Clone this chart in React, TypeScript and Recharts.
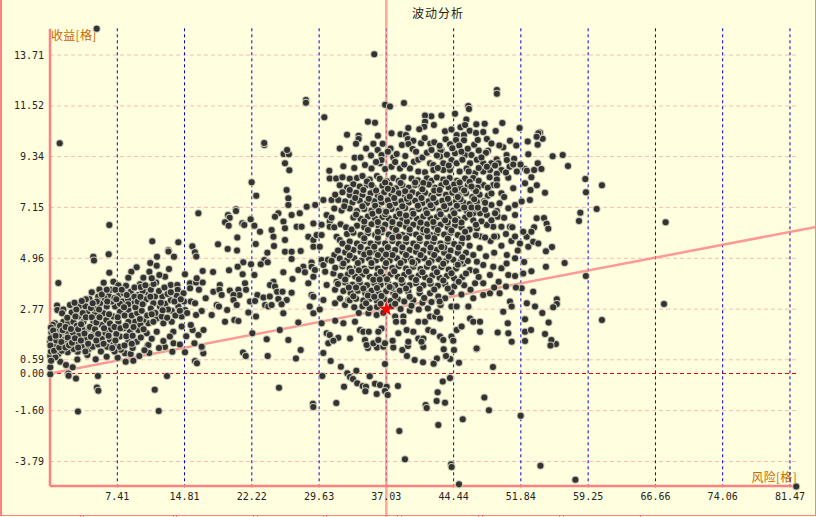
import { ScatterChart, Scatter, XAxis, YAxis, ZAxis, ReferenceLine, Symbols } from 'recharts';

const riskTicks = [7.41, 14.81, 22.22, 29.63, 37.03, 44.44, 51.84, 59.25, 66.66, 74.06, 81.47];
const returnTicks = [13.71, 11.52, 9.34, 7.15, 4.96, 2.77, 0.59, 0, -1.6, -3.79];
const currentPoint = [{ risk: 37.03, ret: 2.77 }];
const frameNotches = [80, 83, 173, 176, 253, 257, 323, 326, 397, 401, 478, 482, 559, 563, 640];

// [risk, return], region by region
const outliers = [
  [5.14,14.84],[1.07,9.91],[23.6,9.84],[23.58,9.92],[35.7,13.74],[28.18,11.77],[28.18,11.66],[36.9,11.57],[37.43,11.49],[38.97,11.64],[49.2,12.2],[49.2,12.04],[30.2,11.03],
  [67.78,6.51],[67.6,2.99],[60.77,2.3],[59,4.2],[60.77,8.1],[60.19,7.08],[59.01,7.8],[58.94,8.37],[58.39,6.92],[58.24,6.56],[57.03,8.93],[56.45,9.41],[55.34,9.35],[56.66,4.76],[54.6,4.6],[55.27,5.45],[54.6,5.26],
  [55.8,3.2],[55.8,2.99],[55.4,2.85],[55.7,1.27],[55.2,1.44],[54.5,1.7],[54.9,2.2],[54.2,2.6],[55.1,1.2],
  [27.6,1.01],[27.08,0.65],[30.09,0.88],[30.9,0.54],[32.03,0.29],[29.98,-0.11],[32.73,0.01],[33.03,-0.15],[33.36,-0.24],[33.73,0.12],[35.2,-0.12],[33.83,-0.42],[32.37,-0.57],[34.43,-0.54],[34.79,-0.57],[34.72,-0.77],[35.78,-0.44],[36.33,-0.5],[35.97,-0.88],[37.07,-0.57],[36.88,-0.75],[37.18,-0.93],[38.31,-0.54],[31.52,-1.27],[28.95,-1.3],[28.99,-1.44],[25.21,-0.61],[36.88,0.41],[38.46,-2.48],[39.08,-3.69],[41.36,-1.36],[41.47,-1.49],[42.57,-1.18],[42.68,-0.81],[43.49,-1.26],[43.24,-0.34],[44.04,-0.19],[42.75,-2.22],[45.44,-1.97],[44.15,-3.91],[44.22,-4.03],[45.03,-4.77],[47.82,-1.03],[48.33,-1.58],[48.77,0.28],[51.82,-1.82],[54,-3.97],[57.84,-4.57],[82.16,-4.87],
  [46.97,1.07],[45.03,0.46],[44.07,0.62],[44.48,1.01],[43.6,0.75],[42.6,0.65],[42.24,0.42],[41.07,0.48],[40.15,0.58],[39.3,0.75],[38.79,1.01],[39.41,1.18],[41.1,1.14],[43.35,1.04],[35,1.1],[36,1.12],[36.7,1.15],[37.8,1.12],
  [0.03,-0.03],[2.01,0],[2.05,-0.1],[2.86,-0.22],[5.28,-0.11],[5.17,-0.6],[5.32,-0.74],[3.08,-1.64],[11.53,-0.7],[11.97,-1.61],[12.88,-0.11],[15.96,0.54],[16.18,0.44],[16.88,0.87],[16.73,1.11],[14.86,0.91],[13.47,0.94],[10.93,0.88],[12.66,1.14],[10.75,1.2],[9.83,0.75],[9.17,0.55],[8.33,0.5],[7.45,0.68],[6.24,0.72],[5.03,0.61],[4.11,0.8],[3.01,0.6],[1.13,0.5],[1.76,0.37],[2.5,0.27],[0.03,0.27],[0.03,0.75],[0.92,0.84],[1.95,0.91],[3.05,0.94],[4.26,1.05],[8.26,0.87],[8.88,0.84],[7.8,1.02],[21.25,0.9],[21.55,0.75],[23.97,0.75],
];

const leftCluster = [
  [0.92,3.9],[6.53,6.39],[4.77,5.03],[4.84,4.86],[6.46,5.13],[6.53,4.34],[11.26,5.69],[13.03,5.31],[13.05,5.25],[14.13,5.65],[13.65,5.03],[11.78,5.03],[11.04,4.76],[11.75,4.64],[13.1,4.5],[9.54,4.57],[8.95,4.38],[8.62,4.12],[14.86,4.27],
  [0.78,2.93],[0.81,2.73],[1.47,2.76],[1.33,2.59],[3.3,2.92],[2.39,2.63],[3.12,2.45],[1.47,2.23],[2,2.16],[2.57,2.23],[0.74,1.87],[1.2,1.73],[1.84,1.8],[0.56,2.16],[0,1.37],[0.92,1.3],[2.2,1.5],[3.2,1.66],[3.86,1.5],[4.23,1.94],[3.68,2.23],[4.1,2.63],[5.14,2.95],[4.34,3.21],[4.6,3.5],[5.44,3.62],[5.91,3.91],[6.46,3.35],[6.98,3.95],[7.53,3.8],[7.57,3.38],[8.37,3.78],[8.89,3.52],[8,3.1],[7.16,2.88],[6.24,2.88],[5.51,3.02],[5.88,2.59],[4.96,2.59],[6.98,2.45],[7.71,2.66],[8.63,2.73],[9.18,3.02],[9.91,3.84],[10.28,4.12],[10.94,4.38],[11.68,3.92],[10.83,3.71],[10.83,3.41],[9.73,3.38],[11.56,3.31],[10.28,3.02],[11.38,3.02],[12.37,3.31],[12.1,2.88],[12.67,4.17],[12.04,4.24],[13.29,3.81],[14.02,3.81],[14.06,3.6],[13.95,3.35],[14.7,3.45],[14.76,3.1],[14.13,2.88],[14.87,2.73],[14.5,2.45],
  [16.7,1.15],[16.34,1.66],[15.7,1.87],[15.5,2.09],[16.9,1.87],[13.58,1.8],[14.5,2.02],[13.4,2.23],[12.48,2.16],[11.75,2.37],[12.3,2.45],[10.83,2.16],[11.38,2.23],[10.28,2.3],[10.65,1.73],[11.75,1.8],[12.48,1.4],[13.2,1.59],[10.83,1.23],[9.36,2.23],[9.73,1.87],[8.63,2.23],[8.8,1.8],[7.53,2.23],[6.6,1.87],[5.7,2.09],[4.78,2.23],[4.78,1.66],[5.7,1.5],[6.6,1.45],[7.7,1.59],[8.63,1.37],[9.55,1.37],[7.64,1.15],
  [0.2,1.1],[0.4,1.55],[0.15,1.75],[0.3,2.1],[0.5,1.2],[0.1,0.95],[0.6,0.7],[1.3,0.98],[1.55,1.2],[2.6,1.05],[2.9,1.3],[3.5,1.15],[3.9,0.95],[4.7,1.15],[5.3,1.25],[5.6,0.95],[6.3,1.15],[7,1.25],[7.1,0.95],[8.2,1.2],[9.1,1.1],[1,1.6],[1.6,1.45],[2.5,1.75],[2.95,2.05],[3.55,1.9],[4.4,2],[4.95,1.9],[5.3,1.7],[6.1,1.75],[6.2,2.3],[6.6,2.15],[7.1,2],[7.3,1.7],[8.1,1.95],[8.2,2.5],[9,2.5],[9.6,2.6],[10.1,2.7],[10.7,2.5],[11.1,2.8],[9.4,2.85],[8.6,3.2],[7.7,3],[6.8,3.1],[6,3.25],[5.3,3.3],[4.9,2.8],[3.9,2.9],[3.6,2.6],[2.9,2.75],[2.2,2.95],[1.9,2.4],[1.1,2.05],[6.7,3.6],[7.2,3.6],[8.1,3.45],[9.3,3.7],[9.3,3.3],[10.2,3.55],[10.6,3.2],[11.1,3.6],[12,3.55],[12.6,3.7],[12.7,3],[13.3,3.15],[13.4,2.7],[11.6,2.6],[12.9,2.4],[13.8,2.5],[15.1,2.6],[10,1.55],[10.4,1],[11.2,1.5],[12,1.1],[13.6,1.3],[14.3,1.25],[15,1.6],[15.9,1.3],
  [0.05,1.2],[0.08,1.52],[0.1,1.98],[0.12,0.55],[0.45,0.98],[0.7,1.42],[0.35,1.85],[0.62,1.62],[1.02,1.12],[1.25,1.36],[1.4,1.86],[1.7,1.12],[1.72,2],[1.95,1.55],[2.1,1.22],[2.3,1.92],[2.42,1.32],[2.75,1.52],[2.8,2.45],[3.1,1.12],[3.1,1.9],[3.4,1.42],[3.42,2.12],[3.8,1.72],[3.95,2.42],[4.2,1.28],[4.5,1.58],[4.6,2.42],[4.5,2.82],[5.1,1.42],[5.1,2.2],[5.45,2.42],[5.9,1.28],[5.95,1.95],[6.45,1.62],[6.5,2.55],[7.2,1.42],[6.85,1.1],[7.45,2.42],[7.75,1.95],[8.4,1.6],[8.35,2.05],[9.1,1.62],[9.2,2],[9,1.28],[9.95,2.1],[10.3,1.9],[9.9,2.35],[5.15,3.1],[4.7,3.02],[3.95,3.2],[3.5,3.12],[2.7,3.05],[5.7,3.4],[6.3,3.1],[6.25,3.6],[7.1,3.25],[7.9,3.6],[8.45,3.38],[8.6,2.98],[9.65,3.1],[9.95,3.3],[10,3.72],[10.5,3.8],[11.4,3.85],[11.2,4.1],[11.05,3.3],[12.2,3.05],[12.95,3.42],[13.3,3.5],[13.7,3.1],[14.4,3.2],[14.3,2.7],[13,2.75],[12.4,2.72],[11.2,2.55],[10.2,2.98],[8.15,2.85],[7.3,3.2],[5.4,2.75],
];

const midBand = [
  [15.67,5.48],[15.96,5.22],[16.11,5.04],[16.81,4.41],[17.95,4.37],[16.33,6.9],[18.5,5.56],[19.56,5.36],[20.59,5.3],[20.62,5.85],[20.48,7.07],[20.48,7],[19.6,6.82],[19.78,6.71],[19.27,6.51],[19.67,6.36],[21.17,6.47],[21.39,6.39],[22.09,6.64],[22.5,6.36],[23.12,6.1],[22.65,5.57],[22.2,8.23],[22.71,7.65],[23.93,5.2],[21.28,4.79],[22.13,4.7],[20.66,4.6],[19.71,4.44],[23.6,4.89],[23.2,4.7],[23.97,4.79],[22.5,4.24],[21.21,4.27],
  [15.42,3.88],[16.08,3.92],[16.81,3.92],[16.15,4.1],[15.42,3.67],[16.4,3.6],[15.5,3.1],[15.97,3.02],[17.14,3.24],[16.7,2.69],[16.08,2.52],[17.8,2.52],[17.99,3.52],[18.7,3.81],[18.65,3.6],[18.9,3.38],[18.36,2.95],[18.6,2.88],[19.5,2.73],[19.8,3.57],[20.74,3.6],[20.85,3.38],[21.47,3.88],[21.58,3.6],[20.2,3.38],[20.2,3.16],[20.56,2.95],[21.84,2.63],[22.68,2.45],[22.02,3.1],[22.83,3.38],[22.57,3.12],[23.5,3.27],[24.2,3.31],[23.68,2.95],[24.04,2.88],[19.27,2.23],[20.3,2.3],[20.74,2.26],[22.28,1.73],[23.86,1.47],
  [26.05,7.9],[26.24,7.54],[26.24,7.25],[25.14,6.9],[26.6,6.82],[27.5,6.9],[28.26,7.18],[29.2,7.25],[24.77,6.75],[25.7,6.54],[25.87,6.25],[27.16,6.32],[27.7,6.32],[29,6.46],[24.4,6.18],[24.6,5.89],[25.87,5.75],[24.66,5.49],[25.87,5.24],[26.6,5.24],[26.6,4.93],[27.6,5.27],[28.44,5.89],[29,5.75],[29.36,5.96],[29,5.46],[29.7,5.46],[29.9,5.96],[30.1,7.47],[29.9,6.4],[31,7.47],[31.74,7.47],[30.46,6.82],[30.8,6.54],[30.8,6.32],[31.56,5.89],[31.9,5.75],
  [25.69,4.36],[27.89,4.6],[27.34,4.46],[28.07,4.36],[28.8,4.78],[28.8,4.6],[29.17,4.46],[29,4.17],[26.7,4.07],[28.44,3.88],[24.6,3.95],[24.22,3.81],[24.77,3.74],[25,3.52],[25.6,3.52],[26.6,3.48],[25.14,3.21],[26.06,3.16],[25.5,2.98],[24.4,2.95],[28.8,3.38],[29,3.3],[28.6,2.88],[29.7,2.75],[29.9,4.89],[30.1,4.67],[30.3,4.38],[30.46,3.81],[30.1,3.16],[31.2,4.3],[31.56,3.95],[31.38,3.6],[31.93,3.23],[31.38,3.02],[32.48,2.95],[32.85,3.16],[30.6,4.9],[31.3,5.1],
  [25.72,9.45],[26.3,9.44],[26.1,9.62],[25.87,9.05],[26.35,8.75],[30.75,8.73],[32.3,8.92],[30.8,8.4],[31.5,8.4],[32.2,8.45],[33,8.38],[33.8,8.42],[25.3,1.87],[26.24,1.44],[27.34,2.2],[25.69,2.59],[29,2.59],[29.9,2.16],[30.46,1.73],[30.8,1.66],[30.64,1.3],[31.74,1.54],[31.2,1.41],[33.03,1.51],[32.3,2.16],[31.4,2.27],[34.13,1.87],[34.5,1.8],[35.1,1.8],[33.58,2.23],[35.05,2.59],[35.96,2.52],[36.5,1.94],[36.15,1.8],[34.68,1.44],[34.86,1.23],[35.6,1.3],[36.15,1.44],[36.88,1.3],[37.72,1.41],[38,2.45],[38.1,2.23],[38.9,2.45],[38.9,2.23],[38.35,1.73],[39.27,1.87],[39.45,1.37],[40.55,1.51],[41.1,1.51],[40.9,1.37],[40,1.8],[40.55,2.23],[41.28,2.23],[41.84,2.45],[42.4,2.45],[42.94,2.37],[41.65,1.87],[42.2,1.8],[42.94,1.59],[43.3,1.44],[44.2,1.59],[44.4,1.41],[44.77,1.87],[45.32,2.02],[46.24,2.37],[46.6,2.23],[47.34,1.8],[47.34,2.23],[49.29,1.76],[50.4,2.16],[50.46,1.73],[50.83,1.37],[52.3,2.33],[52.3,1.8],[52.96,1.87],[52.3,1.4],[46.97,1.08],
];

const rightEdge = [
  [39.45,3.52],[40.7,3.45],[41.84,3.45],[42.75,3.31],[43.5,3.24],[44.2,2.88],[44.77,2.88],[46.06,2.88],[46.6,3.24],[47.7,3.38],[48.44,3.45],[49.5,3.45],[49.9,2.66],[50.64,3.1],[50.83,2.88],[51.93,3.67],[53.2,3.52],[53.4,2.88],[52.5,3.02],
  [46.8,3.88],[47.7,3.88],[48.44,4.24],[47.7,4.67],[46.24,4.46],[45.5,4.74],[47,4.81],[48.8,4.6],[49.7,4.53],[50.46,4.24],[50.27,4.74],[51.2,4.96],[52.66,5.46],[51.74,5.6],[52.48,5.89],[53.2,5.67],[53.76,5.6],[52.1,6.1],[50.64,6.32],[49.7,6.32],[48.8,6.32],[48.1,6.39],[51.2,6.82],[51.2,7.25],[50.46,7.11],[51.93,7.4],[52.84,7.47],[51,7.97],[52.3,8.19],[50.46,8.43],[49.7,7.76],[49.5,7.33],[48.6,7.25],[48.1,6.82],[47.34,6.9],[46.6,6.9],[48.8,8.11],[47.7,8.11],[46.6,7.97],[53.58,6.68],
  [54.24,10.11],[53.95,10.37],[54.5,7.78],[54.39,6.69],[54.68,6.45],[54.86,6.23],[53.6,8.1],[52.9,7.9],[52.3,8.8],[53,8.45],[53.7,9.05],[54.1,8.8],[53.3,6.3],[53,6.1],[51.5,5.3],[52.2,4.8],[50.8,5.7],[49.7,5.5],[50.3,5.1],[48.9,5.2],[48.5,5.7],[49.2,5.9],[48,5.05],[47.3,5.4],[47.4,5.9],[53,4.4],[52.1,4.3],[51.2,4.2],[51.3,3.7],[50.2,3.75],[49.4,3.95],[48.9,3.7],
  [53.76,10.34],[53.58,10.19],[52.6,9.99],[53.69,9.85],[50.64,10.02],[51.34,9.82],[49.9,9.74],[49.47,9.82],[52.66,9.44],[51.1,9.25],[50.27,9.41],[50.3,9.19],[49.18,9.22],[48.22,9.59],[48,9.5],[51.7,10.57],[49.07,10.44],[49.8,10.78],[47.86,10.75],[46.94,10.73],
];

const upperCore = [
  [35,10.84],[35.78,10.8],[44.59,11.18],[43.1,11.11],[41.98,11.07],[41.29,11.11],[41.29,10.84],[41.2,10.62],[39.45,10.57],[40.66,10.52],[42.27,10.7],[46.05,11.52],[46.13,11.39],[45.84,10.94],[45.2,10.6],[45.7,10.7],[46.2,10.45],[32.7,10.28],[33.98,10.24],[33.98,10.09],[36.1,10.24],[33.69,9.89],[31.9,9.69],[34.8,9.69],[35.6,9.89],[36.63,9.89],[37.5,9.69],[36.08,9.62],[37.6,10.34],[38.6,10.3],[39.19,10.27],[39.4,10.09],[40,10.02],[38.75,9.84],[39.46,9.88],[39.93,9.66],[40.85,9.91],[41.25,10.14],[41.87,9.89],[42.3,9.96],[43.49,10.43],[43.56,10.08],[44.77,10.27],[45.58,10.27],[44.7,10.05],[45.58,10.04],[44.04,9.87],[45.06,9.82],[43.12,9.62],[43,9.6],
  [33.54,9.29],[34.68,8.98],[35.34,9.39],[35.4,8.83],[36.33,9.05],[36.5,9.41],[37.8,9.3],[38.17,9.45],[39.12,9.36],[38.53,8.83],[40.07,9.12],[40.55,9.2],[41.84,9.05],[42.2,8.98],[42.94,9.34],[43.3,9.05],[44.2,9.19],[44.6,9.48],[45.7,9.41],[46.4,9.41],[44.77,9.05],[46.24,9.05],[47.7,9.05],[48.6,9.05],[49.36,9.05],[49.7,8.76],[48.44,8.76],[51.4,8.7],[52.5,8.73],[53.3,8.76],[39.63,8.83],[40.55,8.7],[41.28,8.66],[42.2,8.76],[43.3,8.76],[44.04,8.76],[45.87,8.83],[46.8,8.62],[47.7,8.7],[36.5,9.19],[36.9,8.8],[37.6,8.9],[38,9.1],[41,9.3],[45.1,8.7],[47,9.2],
  [40.3,9.55],[41.5,9.5],[42,9.62],[42.6,9.38],[43.7,9.42],[44.3,9.7],[45.3,9.55],[46,9.68],[46.7,9.85],[47.2,9.6],[47.5,9.3],[47.1,10.05],[48.1,10.1],[48.6,9.9],[44.2,10.5],[42.9,9.8],[46.9,10.35],[47.7,10.4],[50.6,8.9],[51.8,9],[49.2,8.6],[39,9],[37.2,9.55],[35.9,9.1],[34.2,9.3],[33.5,8.85],[42.7,8.85],[43.9,8.95],[45.4,9.2],[46.1,8.7],[47.2,8.85],[48.1,8.9],[49,8.95],[50.2,8.65],[51,9],
];

const denseCore = [
  [34.4,8.5],[35.2,8.35],[36,8.5],[36.3,8.38],[37.1,8.28],[37.8,8.42],[38.4,8.3],[38.9,8.46],[39.8,8.4],[40.5,8.32],[41.5,8.41],[42,8.3],[42.6,8.44],[43.3,8.35],[44,8.42],[44.8,8.3],[45.7,8.4],[46.6,8.42],[47.2,8.3],[48.4,8.45],[49.2,8.35],
  [31.9,8.1],[32.7,8],[33.4,8.15],[34.1,8.05],[34.9,8.12],[35.6,8],[36.6,8.08],[37.4,8.12],[38.1,7.98],[38.8,8.1],[39.5,8],[40.2,8.12],[40.9,8.05],[41.7,8.14],[42.4,8],[43.1,8.1],[43.9,8.02],[44.5,8.14],[45.2,8],[46,8.1],[47.1,8],[48.2,8],[49.2,8.1],
  [31.4,7.7],[32.2,7.8],[33,7.68],[33.7,7.78],[34.4,7.68],[35.3,7.76],[36.1,7.66],[36.8,7.8],[37.6,7.7],[38.4,7.76],[39.1,7.66],[39.9,7.8],[40.6,7.72],[41.3,7.78],[42,7.66],[42.8,7.76],[43.6,7.7],[44.3,7.78],[45,7.66],[45.8,7.76],[46.5,7.6],[47.3,7.7],[48.2,7.65],[50,7.6],
  [32.5,7.4],[33.3,7.36],[34.1,7.44],[34.9,7.34],[35.7,7.42],[36.5,7.36],[37.2,7.46],[38,7.34],[38.7,7.42],[39.5,7.36],[40.2,7.44],[41,7.34],[41.7,7.42],[42.5,7.36],[43.2,7.44],[44,7.34],[44.7,7.42],[45.5,7.36],[46.2,7.3],[47,7.38],[47.8,7.42],
  [31.3,7.1],[32.1,7.02],[33,7.1],[33.8,7],[34.6,7.08],[35.4,7.02],[36.1,7.12],[36.9,7],[37.6,7.08],[38.4,7.02],[39.1,7.12],[39.9,7],[40.6,7.08],[41.4,7.04],[42.1,7.12],[42.9,7],[43.6,7.08],[44.4,7.02],[45.1,7.1],[45.9,7],[46.9,7.1],[47.9,7.05],[49.2,7],
  [31,6.7],[33.4,6.72],[34.2,6.66],[35,6.76],[35.8,6.66],[36.6,6.74],[37.3,6.68],[38.1,6.76],[38.8,6.66],[39.6,6.74],[40.4,6.66],[41.1,6.76],[41.9,6.68],[42.6,6.74],[43.4,6.66],[44.1,6.76],[44.9,6.64],[45.7,6.7],[46.6,6.6],[47.5,6.55],[49.3,6.75],[50,6.7],
  [31.3,6.3],[32,6.42],[32.6,6.3],[33.8,6.36],[34.6,6.3],[35.4,6.42],[36.2,6.32],[36.9,6.4],[37.7,6.3],[38.5,6.42],[39.2,6.32],[40,6.4],[40.7,6.3],[41.5,6.42],[42.3,6.32],[43,6.4],[43.8,6.3],[44.6,6.38],[45.3,6.3],[46.2,6.2],[47,6.25],
  [32.7,6],[33.4,6.06],[34.2,5.96],[35,6.04],[35.8,5.96],[36.5,6.08],[37.3,5.98],[38.1,6.06],[38.8,5.96],[39.6,6.04],[40.3,5.98],[41.1,6.08],[41.9,5.96],[42.6,6.04],[43.4,5.98],[44.1,6.06],[44.9,5.96],[46,5.85],[46.9,5.95],[47.9,5.85],[48.9,5.9],[50.2,6],[51.2,5.9],
  [32.2,5.6],[33,5.68],[33.8,5.6],[34.6,5.7],[35.3,5.6],[36.1,5.66],[36.9,5.6],[37.7,5.7],[38.4,5.58],[39.2,5.66],[40,5.6],[40.7,5.7],[41.5,5.58],[42.2,5.66],[43,5.6],[43.8,5.68],[44.5,5.58],[45.3,5.6],[46.2,5.5],[50.9,6.3],
  [31.7,5.3],[32.5,5.22],[33.4,5.32],[34.2,5.24],[35,5.34],[35.7,5.24],[36.5,5.3],[37.3,5.22],[38,5.32],[38.8,5.24],[39.6,5.32],[40.3,5.24],[41.1,5.3],[41.9,5.22],[42.6,5.32],[43.4,5.2],[44.1,5.3],[44.9,5.2],[45.8,5.2],[46.6,5.1],
  [31,4.85],[31.9,4.95],[32.7,4.88],[33.5,4.96],[34.3,4.86],[35.1,4.96],[35.9,4.88],[36.6,4.94],[37.4,4.86],[38.2,4.96],[39,4.86],[39.7,4.94],[40.5,4.86],[41.2,4.96],[42,4.86],[42.8,4.92],[43.6,4.84],[44.4,4.9],[45.2,4.8],[46,4.84],
  [31.4,4.55],[32.2,4.62],[33,4.52],[33.8,4.6],[34.6,4.52],[35.4,4.62],[36.1,4.52],[36.9,4.6],[37.7,4.54],[38.4,4.62],[39.2,4.52],[40,4.6],[40.8,4.5],[41.5,4.6],[42.3,4.52],[43.1,4.58],[43.9,4.48],[44.7,4.52],[46.9,4.4],
  [32,4.2],[32.8,4.26],[33.6,4.18],[34.4,4.26],[35.2,4.16],[36,4.24],[36.7,4.16],[37.5,4.26],[38.3,4.16],[39,4.24],[39.8,4.14],[40.6,4.22],[41.3,4.14],[42.1,4.22],[42.9,4.12],[43.7,4.2],[44.5,4.1],[45.4,4.15],[47.2,4.15],
  [31.7,3.85],[32.5,3.92],[33.3,3.82],[34.1,3.9],[34.9,3.8],[35.7,3.9],[36.4,3.82],[37.2,3.9],[38,3.8],[38.8,3.88],[39.6,3.8],[40.3,3.88],[41.1,3.8],[41.9,3.86],[42.7,3.78],[43.5,3.84],[44.5,3.75],[45.6,3.8],[46.3,3.6],
  [32.3,3.55],[33.1,3.48],[33.9,3.56],[34.7,3.46],[35.4,3.56],[36.2,3.46],[37,3.54],[37.8,3.46],[38.5,3.56],[44.2,3.5],[45.3,3.4],
  [33,3.15],[33.7,3.22],[34.5,3.14],[35.2,3.22],[36,3.12],[36.8,3.2],[37.5,3.12],[38.3,3.2],[39,3.1],[40,3.15],[41,3.05],[42,3.08],[43,2.95],
  [33.5,2.85],[34.4,2.9],[35.2,2.82],[36,2.86],[37.6,2.9],[38.6,2.78],[39.6,2.7],[40.6,2.75],[41.6,2.8],[42.6,2.65],
];

const coreInfill = [
  [34.9,8.27],[36.9,8.22],[38.6,8.2],[40.2,8.22],[41.1,8.2],[43.6,8.22],[45.1,8.22],[46.2,8.26],[34.5,7.9],[35.9,7.88],[37.7,7.9],[39.1,7.85],[41,7.93],[42.3,7.88],[44.6,7.9],[45.6,7.88],[46.9,7.85],[33,7.9],[33.6,7.55],[35.1,7.52],[36.4,7.56],[37.9,7.55],[39.3,7.52],[40.9,7.55],[42.2,7.55],[43.8,7.52],[45.2,7.5],[46.7,7.5],[34.4,7.2],[35.8,7.22],[37.4,7.22],[38.8,7.2],[40.5,7.22],[41.9,7.24],[43.4,7.2],[44.8,7.22],[46.4,7.15],[32.4,7.2],[33.7,6.85],[35.5,6.88],[36.9,6.86],[38.5,6.88],[40,6.88],[41.5,6.9],[43,6.86],[44.5,6.9],[46.2,6.85],[48.6,6.6],[34.6,6.54],[36.1,6.52],[37.7,6.52],[39.3,6.54],[40.8,6.5],[42.2,6.52],[43.8,6.5],[45.3,6.5],[46.9,6.4],[33.2,6.2],[35,6.18],[36.6,6.2],[38.1,6.18],[39.6,6.2],[41.1,6.2],[42.7,6.18],[44.2,6.16],[45.7,6.1],[34.6,5.82],[36.1,5.84],[37.7,5.84],[39.2,5.82],[40.7,5.82],[42.3,5.82],[43.8,5.8],[45.4,5.82],[32.8,5.42],[34.2,5.45],[35.7,5.46],[37.2,5.44],[38.8,5.44],[40.4,5.46],[41.9,5.42],[43.4,5.42],[45,5.42],[33,5.08],[34.6,5.12],[36.1,5.1],[37.7,5.1],[39.2,5.1],[40.8,5.1],[42.3,5.1],[43.9,5.04],[45.4,5],[32.3,4.74],[33.9,4.76],[35.4,4.76],[37,4.76],[38.6,4.76],[40.1,4.74],[41.7,4.76],[43.3,4.72],[44.9,4.68],[33.2,4.38],[34.8,4.4],[36.4,4.38],[37.9,4.4],[39.5,4.38],[41,4.36],[42.6,4.36],[44.2,4.32],[45.8,4.3],[32.5,4.05],[34,4.06],[35.6,4.04],[37.1,4.06],[38.7,4.04],[40.3,4.02],[41.8,4],[43.3,4],[45,3.95],[32.9,3.7],[34.5,3.66],[36,3.68],[37.6,3.68],[39.2,3.66],[40.7,3.64],[42.3,3.62],[43.8,3.66],[33.4,3.33],[35,3.36],[36.5,3.34],[38,3.35],[39.6,3.3],[41.2,3.25],[42.9,3.1],[34.8,3.02],[36.4,3],[38,3],[39.8,2.92],[34,2.6],[36.7,2.62],
  [35.4,8.12],[37.2,7.95],[39.6,7.62],[42.9,7.9],[44.9,7.6],[36.2,7],[37,6.96],[39.2,6.8],[43.5,6.6],[36.1,6.1],[38.4,5.9],[41.6,5.9],[35.2,5.2],[37,5.12],[39.9,4.8],[34,4.45],[36.3,4.05],[37.4,3.72],[35.7,3.3],[33.7,3.7],[41.5,6.15],[43.1,5.45],[44.6,6.6],[45.6,7.15],[47.1,7.15],[46.4,8.05],[48.6,7.75],[47.9,7.35],[49,6.9],
];

const allPoints = [...outliers, ...leftCluster, ...midBand, ...rightEdge, ...upperCore, ...denseCore, ...coreInfill].map(([risk, ret]) => ({ risk, ret }));

const trendLine = [{ x: 0, y: 0 }, { x: 84.33, y: 6.31 }];
const crossLine = [{ x: 37.03, y: 16.08 }, { x: 37.03, y: -6.2 }];

const PointDot = ({ cx, cy }: any) => (
  <g>
    <circle cx={cx} cy={cy} r={4} fill="#c8c8b2" />
    <circle cx={cx} cy={cy} r={3} fill="#333333" />
  </g>
);

const StarDot = ({ cx, cy }: any) => (
  <Symbols cx={cx} cy={cy} type="star" size={70} fill="#ff0000" />
);

const tickStyle = { fontSize: 10, fontFamily: '"DejaVu Sans Mono", monospace', fill: '#222222' };

export default function App() {
  return (
    <div style={{ position: 'absolute', left: 0, top: 0, width: 816, height: 517, background: '#ffffe0', overflow: 'hidden' }}>
      <div style={{ position: 'absolute', left: 0, top: 0, width: 816, height: 516, boxSizing: 'border-box', borderLeft: '2px solid #ff8080', borderRight: '1px solid #ff8080', borderBottom: '1px solid #ff8080' }} />
      {frameNotches.map((n) => (
        <div key={n} style={{ position: 'absolute', left: n, top: 515, width: 1, height: 2, background: '#ff8080' }} />
      ))}
      <div style={{ position: 'absolute', left: 0, top: 0 }}>
        <ScatterChart width={816} height={517} margin={{ top: 27.4, right: 19.4, bottom: 0, left: 0 }}>
          <XAxis
            type="number"
            dataKey="risk"
            domain={[0, 82.2]}
            ticks={riskTicks}
            interval={0}
            height={29.7}
            axisLine={false}
            tickLine={false}
            tick={tickStyle}
            tickMargin={0}
            tickFormatter={(v: number) => v.toFixed(2)}
          />
          <YAxis
            type="number"
            dataKey="ret"
            domain={[-4.9, 14.9]}
            ticks={returnTicks}
            interval={0}
            width={50}
            axisLine={false}
            tickLine={false}
            tick={tickStyle}
            tickMargin={0}
            tickFormatter={(v: number) => v.toFixed(2)}
          />
          <ZAxis range={[50, 50]} />
          {returnTicks.map((t) => (
            <ReferenceLine key={`h-${t}`} y={t} stroke={t === 0 ? '#ee0000' : '#ffb8b8'} strokeDasharray="4 3" />
          ))}
          {riskTicks.map((t) => (
            <ReferenceLine key={`v-${t}`} x={t} stroke="#0000cc" strokeDasharray="3 3" />
          ))}
          <Scatter data={allPoints} isAnimationActive={false} shape={PointDot} />
          <ReferenceLine segment={[{ x: 0, y: -4.84 }, { x: 0, y: 14.84 }]} stroke="#ff8080" strokeWidth={2.5} ifOverflow="visible" />
          <ReferenceLine segment={[{ x: 0, y: -4.84 }, { x: 82.1, y: -4.84 }]} stroke="#ff8080" strokeWidth={2.5} ifOverflow="visible" />
          <ReferenceLine segment={crossLine} stroke="#ff8080" strokeOpacity={0.7} strokeWidth={2.5} ifOverflow="visible" isFront />
          <ReferenceLine segment={trendLine} stroke="#ff8080" strokeOpacity={0.8} strokeWidth={2.5} ifOverflow="visible" isFront />
          <Scatter data={currentPoint} isAnimationActive={false} shape={StarDot} />
          <text x={438} y={18} textAnchor="middle" fontSize={12} letterSpacing={1} fontFamily='"Noto Sans CJK SC"' fill="#222222">波动分析</text>
          <text x={51} y={40} fontSize={12} letterSpacing={0.3} fontFamily='"Noto Sans CJK SC"' fill="#cc6600">收益[格]</text>
          <text x={797} y={482} textAnchor="end" fontSize={12} letterSpacing={0.3} fontFamily='"Noto Sans CJK SC"' fill="#cc6600">风险[格]</text>
        </ScatterChart>
      </div>
    </div>
  );
}
